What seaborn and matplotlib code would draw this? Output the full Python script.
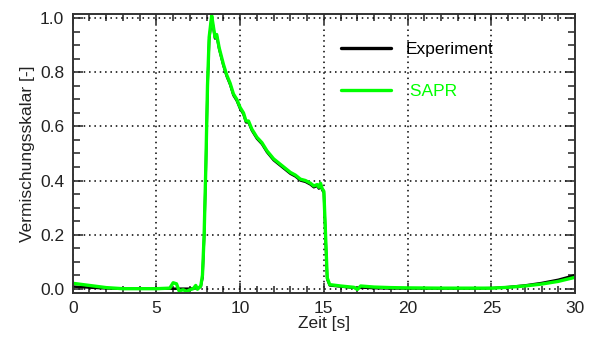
import numpy as np
import pandas as pd
import matplotlib
matplotlib.use("Agg")
import matplotlib.pyplot as plt
import seaborn as sns
from matplotlib.ticker import MultipleLocator
from matplotlib.lines import Line2D

# ---- data ----
t_sapr = [0, 1, 2, 3, 4, 5, 5.8, 6.0, 6.2, 6.35, 6.6, 6.8, 7.0, 7.2, 7.35, 7.45, 7.65,
          7.75, 7.85, 7.95, 8.05, 8.15, 8.3, 8.4, 8.5, 8.6, 8.75, 9.0, 9.2, 9.4, 9.6,
          9.8, 10.0, 10.2, 10.35, 10.5, 10.7, 11.0, 11.3, 11.6, 12.0, 12.3, 12.6, 13.0,
          13.3, 13.6, 13.9, 14.2, 14.4, 14.6, 14.7, 14.8, 14.9, 15.0, 15.1, 15.2, 15.35,
          16.0, 16.8, 17.0, 17.2, 18, 19, 20, 22, 24, 25, 26, 27, 28, 29, 30]
v_sapr = [0.020, 0.012, 0.004, 0.0, 0.0, 0.0, 0.002, 0.022, 0.018, -0.008, -0.004, -0.010,
          -0.004, 0.0, 0.012, -0.002, 0.010, 0.05, 0.20, 0.45, 0.75, 0.93, 1.01, 0.97,
          0.93, 0.94, 0.89, 0.83, 0.79, 0.76, 0.72, 0.70, 0.67, 0.65, 0.62, 0.62, 0.59,
          0.56, 0.54, 0.51, 0.48, 0.465, 0.45, 0.43, 0.42, 0.405, 0.40, 0.39, 0.38, 0.385,
          0.375, 0.39, 0.37, 0.36, 0.20, 0.04, 0.015, 0.010, 0.005, -0.003, 0.010, 0.006,
          0.004, 0.003, 0.002, 0.002, 0.002, 0.005, 0.010, 0.017, 0.027, 0.042]

t_exp = [0, 1, 2, 3, 4, 5, 6, 7, 7.5, 7.65, 7.75, 7.85, 7.95, 8.05, 8.15, 8.3, 8.4, 8.5,
         8.6, 8.75, 9.0, 9.2, 9.4, 9.6, 9.8, 10.0, 10.2, 10.35, 10.5, 10.7, 11.0, 11.3,
         11.6, 12.0, 12.3, 12.6, 13.0, 13.3, 13.6, 13.9, 14.2, 14.4, 14.6, 14.7, 14.8,
         14.9, 15.0, 15.1, 15.2, 15.35, 16.0, 17.0, 17.3, 18, 19, 20, 22, 24, 25, 26, 27,
         28, 29, 30]
v_exp = [0.008, 0.004, 0.001, 0.0, 0.0, 0.0, 0.0, 0.0, 0.002, 0.008, 0.04, 0.19, 0.44,
         0.74, 0.92, 1.00, 0.965, 0.925, 0.935, 0.885, 0.825, 0.785, 0.755, 0.715, 0.695,
         0.665, 0.645, 0.615, 0.615, 0.585, 0.555, 0.535, 0.505, 0.475, 0.46, 0.445, 0.425,
         0.415, 0.40, 0.395, 0.385, 0.375, 0.38, 0.37, 0.385, 0.365, 0.355, 0.19, 0.035,
         0.012, 0.008, 0.002, 0.004, 0.002, 0.001, 0.001, 0.001, 0.001, 0.002, 0.006,
         0.012, 0.021, 0.033, 0.050]

series_names = ["Experiment", "SAPR"]
legend_labels = ["Experiment", " SAPR"]
colors = {"Experiment": "#000000", "SAPR": "#00ff00"}

df = pd.concat([
    pd.DataFrame({"Zeit": t_exp, "Wert": v_exp, "Serie": "Experiment"}),
    pd.DataFrame({"Zeit": t_sapr, "Wert": v_sapr, "Serie": "SAPR"}),
], ignore_index=True)

sns.set_theme(style="white")
plt.rcParams["font.family"] = ["Liberation Sans", "DejaVu Sans"]

fig = plt.figure(figsize=(5.91, 3.40), dpi=100)
ax = fig.add_axes([0.123, 0.139, 0.850, 0.820])

sns.lineplot(data=df, x="Zeit", y="Wert", hue="Serie", hue_order=series_names,
             palette=colors, ax=ax, linewidth=2.2, legend=False, sort=False)
for ln, lw in zip(ax.lines, [1.8, 2.4]):
    ln.set_linewidth(lw)

ax.set_xlim(0, 30)
ax.set_ylim(-0.015, 1.016)
ax.xaxis.set_major_locator(MultipleLocator(5))
ax.xaxis.set_minor_locator(MultipleLocator(1))
ax.yaxis.set_major_locator(MultipleLocator(0.2))
ax.yaxis.set_minor_locator(MultipleLocator(0.05))
ax.yaxis.set_major_formatter(matplotlib.ticker.FormatStrFormatter("%.1f"))

ax.grid(True, which="major", color="black", linestyle=(0, (1, 2.5)), linewidth=1.1)
ax.tick_params(which="both", direction="in", top=True, right=True, bottom=True, left=True,
               colors="#222222", labelcolor="#222222", labelsize=12.5, pad=6)
ax.tick_params(which="major", length=7, width=1.1)
ax.tick_params(which="minor", length=5, width=1.1)
for s in ax.spines.values():
    s.set_color("#333333")
    s.set_linewidth(1.4)

ax.set_xlabel("Zeit [s]", fontsize=12.5, color="#222222", labelpad=0)
ax.set_ylabel("Vermischungsskalar [-]", fontsize=12.5, color="#222222", labelpad=4)

handles = [Line2D([0], [0], color=colors[n], lw=2.4) for n in series_names]
leg = ax.legend(handles, legend_labels, loc="upper left",
                bbox_to_anchor=(0.503, 0.955), frameon=False, fontsize=12.5,
                handlelength=2.9, handletextpad=0.8, labelspacing=1.55)
for txt, n in zip(leg.get_texts(), series_names):
    txt.set_color(colors[n])

fig.savefig("out.png", dpi=100)
